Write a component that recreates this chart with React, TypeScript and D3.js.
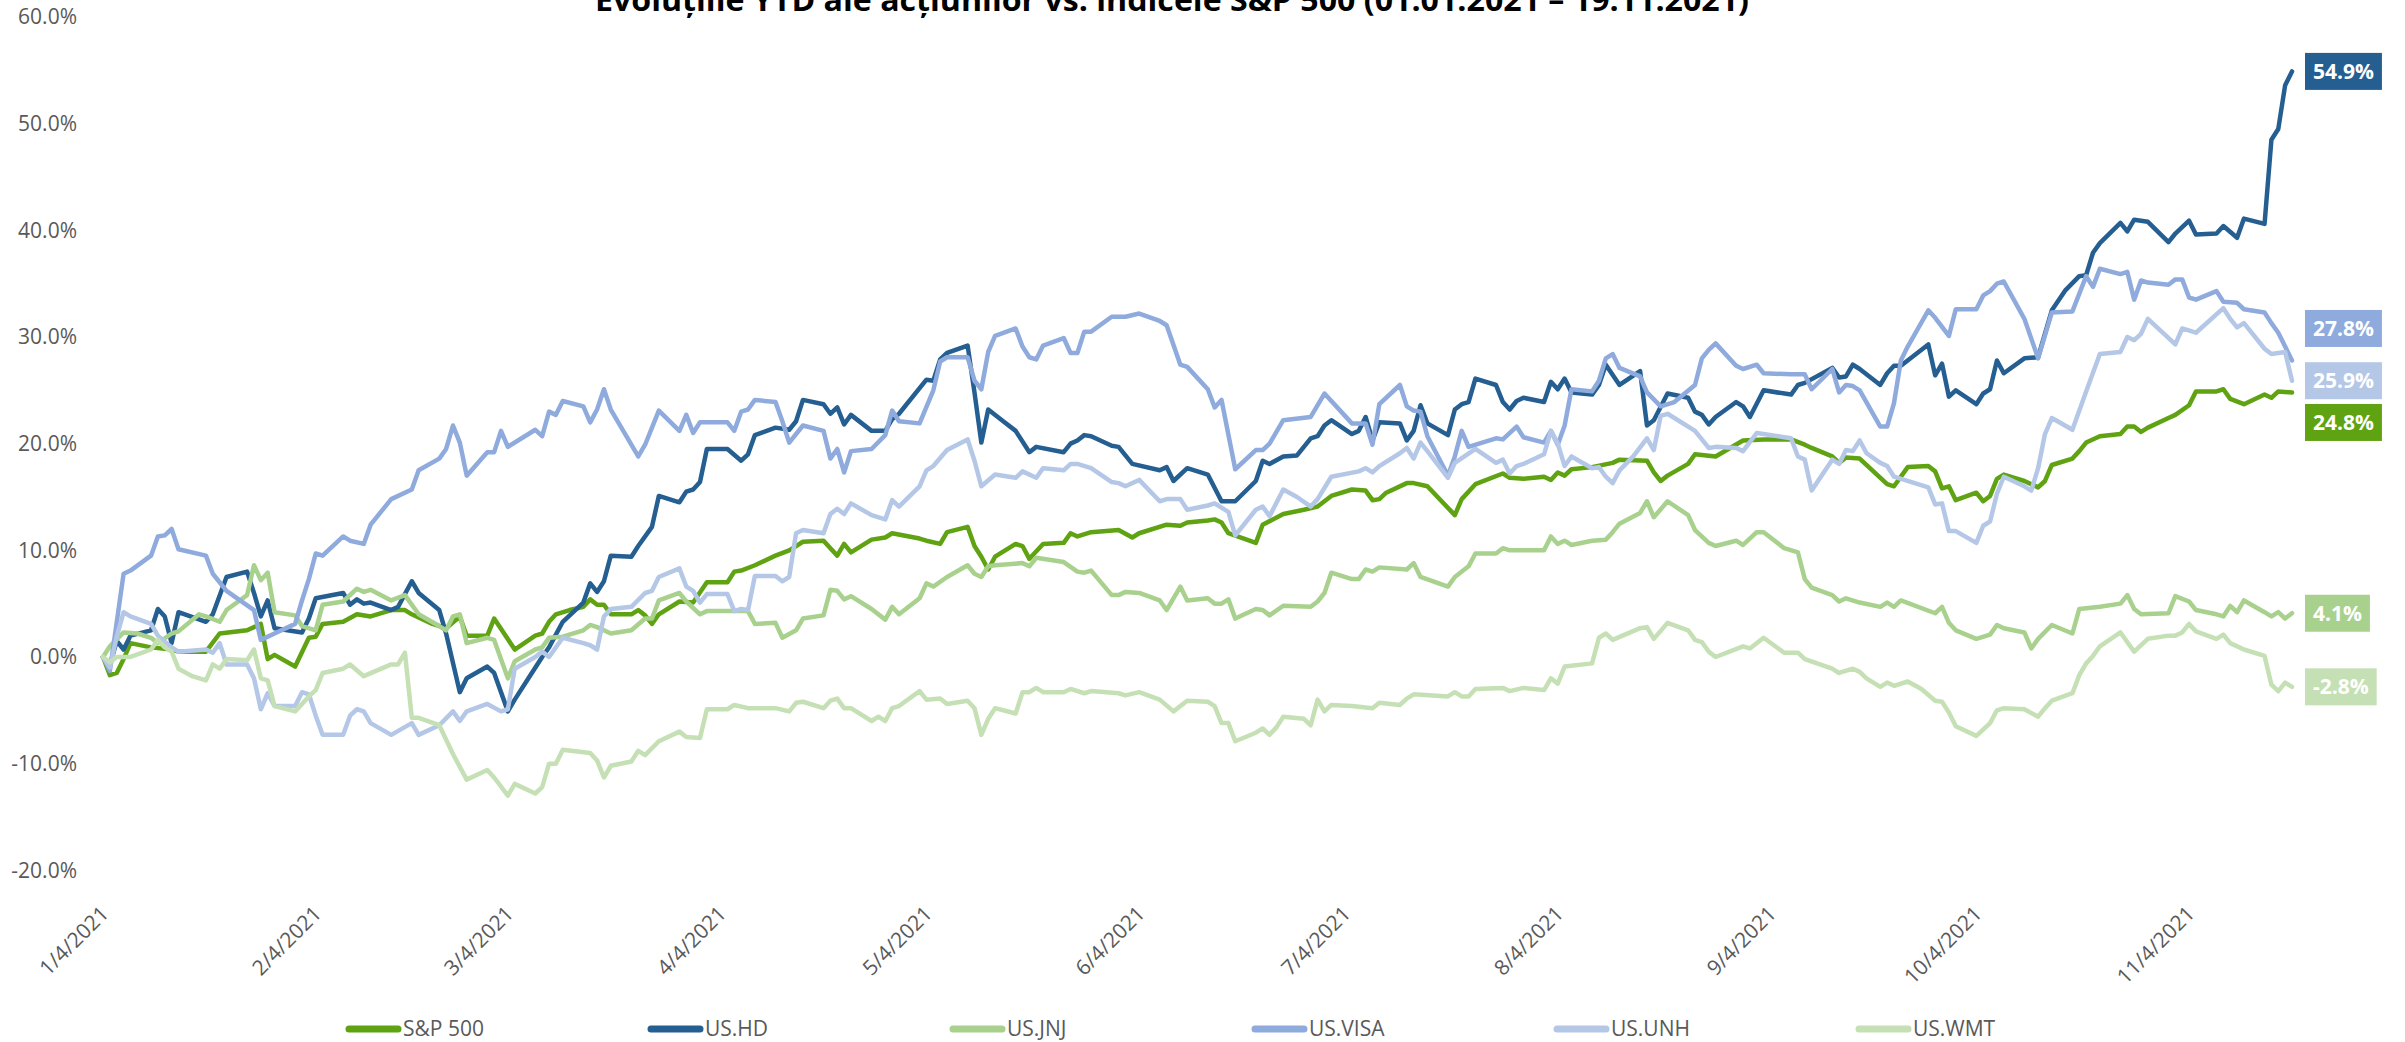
import * as d3 from "d3";

const W = 2405;
const H = 1042;

// x is counted in calendar days after 1/4/2021, y is the YTD change in %
const START = new Date(2021, 0, 4);
const LAST_DAY = 319;

const TITLE = "Evoluțiile YTD ale acțiunilor vs. indicele S&P 500 (01.01.2021 – 19.11.2021)";
const TICK_LABELS = [
  "1/4/2021", "2/4/2021", "3/4/2021", "4/4/2021", "5/4/2021", "6/4/2021",
  "7/4/2021", "8/4/2021", "9/4/2021", "10/4/2021", "11/4/2021",
];
const Y_TICKS = [-20, -10, 0, 10, 20, 30, 40, 50, 60];
const SERIES_NAMES = ["S&P 500", "US.HD", "US.JNJ", "US.VISA", "US.UNH", "US.WMT"];

const SP500: [number, number][] = [
  [0, 0], [1, -1.7], [2, -1.5], [3, -0.2], [4, 1.3], [7, 0.9], [10, 0.7], [11, 0.5], [15, 0.5], [17, 2.2],
  [21, 2.5], [23, 3.1], [24, -0.2], [25, 0.2], [28, -0.9], [30, 1.8], [31, 1.9], [32, 3.1], [35, 3.3], [37, 4.0],
  [39, 3.8], [42, 4.4], [44, 4.4], [45, 4.0], [48, 3.1], [50, 2.7], [52, 3.8], [53, 2.0], [56, 2.0], [57, 3.6],
  [60, 0.7], [63, 2.0], [64, 2.2], [65, 3.3], [66, 4.0], [68, 4.4], [70, 4.7], [71, 5.4], [72, 4.9], [73, 4.9],
  [74, 4.0], [77, 4.0], [78, 4.4], [79, 3.9], [80, 3.1], [81, 4.0], [84, 5.2], [86, 5.1], [88, 7.0], [91, 7.0],
  [92, 8.0], [93, 8.1], [95, 8.6], [98, 9.5], [100, 10.0], [101, 10.4], [102, 10.8], [105, 10.9], [106, 10.2], [107, 9.5],
  [108, 10.6], [109, 9.8], [112, 11.0], [114, 11.2], [115, 11.6], [119, 11.1], [120, 10.9], [122, 10.6], [123, 11.7], [126, 12.2],
  [127, 10.4], [128, 9.4], [129, 8.2], [130, 9.4], [133, 10.6], [134, 10.4], [135, 9.2], [137, 10.6], [140, 10.7], [141, 11.6],
  [142, 11.3], [144, 11.7], [148, 11.9], [150, 11.2], [151, 11.6], [155, 12.4], [157, 12.3], [158, 12.6], [161, 12.8], [162, 12.9],
  [163, 12.6], [164, 11.6], [168, 10.7], [169, 12.4], [172, 13.4], [175, 13.8], [177, 14.1], [179, 15.1], [182, 15.7], [184, 15.6],
  [185, 14.7], [186, 14.8], [187, 15.4], [190, 16.3], [191, 16.3], [193, 16.0], [197, 13.3], [198, 14.8], [200, 16.2], [204, 17.2],
  [205, 16.8], [207, 16.7], [210, 16.9], [211, 16.6], [212, 17.3], [213, 17.0], [214, 17.6], [217, 17.8], [220, 18.2], [221, 18.5],
  [225, 18.4], [226, 17.3], [227, 16.5], [228, 17.0], [231, 18.1], [232, 19.0], [235, 18.8], [239, 20.3], [242, 20.4], [246, 20.4],
  [248, 19.9], [249, 19.6], [252, 18.8], [253, 18.2], [254, 18.7], [256, 18.6], [260, 16.2], [261, 16.0], [263, 17.8], [266, 17.9],
  [267, 17.4], [268, 15.8], [269, 16.0], [270, 14.7], [273, 15.4], [274, 14.6], [275, 15.1], [276, 16.7], [277, 17.1], [280, 16.5],
  [282, 15.9], [283, 16.5], [284, 18.0], [287, 18.6], [288, 19.3], [289, 20.1], [291, 20.7], [294, 20.9], [295, 21.6], [296, 21.6],
  [297, 21.1], [298, 21.5], [301, 22.4], [302, 22.7], [304, 23.6], [305, 24.9], [308, 24.9], [309, 25.1], [310, 24.2], [312, 23.7],
  [315, 24.6], [316, 24.3], [317, 24.9], [319, 24.8],
];

const HD: [number, number][] = [
  [0, 0], [1, -0.8], [2, 1.5], [3, 0.7], [4, 2.0], [7, 2.5], [8, 4.5], [9, 3.8], [10, 1.3], [11, 4.2],
  [15, 3.3], [16, 4.0], [18, 7.5], [21, 8.0], [22, 6.0], [23, 3.8], [24, 5.3], [25, 2.7], [29, 2.3], [30, 3.6],
  [31, 5.5], [35, 6.0], [36, 4.9], [37, 5.4], [38, 5.0], [39, 5.1], [42, 4.4], [43, 4.7], [45, 7.1], [46, 6.0],
  [49, 4.4], [50, 2.2], [52, -3.3], [53, -2.0], [56, -0.9], [57, -1.5], [59, -5.1], [60, -4.0], [62, -2.0], [64, 0.0],
  [65, 0.9], [67, 3.3], [70, 5.1], [71, 6.9], [72, 6.1], [73, 7.1], [74, 9.5], [77, 9.4], [78, 10.4], [80, 12.2],
  [81, 15.1], [84, 14.5], [85, 15.5], [86, 15.7], [87, 16.4], [88, 19.5], [91, 19.5], [93, 18.4], [94, 19.0], [95, 20.8],
  [98, 21.5], [100, 21.3], [101, 22.1], [102, 24.1], [105, 23.7], [106, 22.8], [107, 23.4], [108, 21.8], [109, 22.7], [112, 21.2],
  [114, 21.2], [115, 22.3], [116, 22.8], [120, 26.0], [121, 25.9], [122, 27.9], [123, 28.5], [126, 29.2], [127, 24.8], [128, 20.1],
  [129, 23.2], [131, 22.2], [133, 21.2], [135, 19.2], [136, 19.7], [140, 19.2], [141, 20.0], [142, 20.3], [143, 20.8], [144, 20.7],
  [147, 19.8], [148, 19.7], [150, 18.1], [154, 17.5], [155, 17.8], [156, 16.5], [158, 17.7], [161, 17.1], [163, 14.6], [165, 14.6],
  [168, 16.5], [169, 18.4], [170, 18.1], [172, 18.8], [174, 18.9], [176, 20.5], [177, 20.7], [178, 21.7], [179, 22.2], [182, 20.9],
  [183, 21.2], [184, 22.5], [185, 20.3], [186, 22.0], [189, 21.9], [190, 20.3], [191, 21.2], [192, 23.6], [193, 21.9], [196, 20.8],
  [197, 23.2], [198, 23.7], [199, 23.9], [200, 26.1], [203, 25.5], [204, 23.9], [205, 23.2], [206, 24.0], [207, 24.3], [210, 23.9],
  [211, 25.8], [212, 25.1], [213, 26.1], [214, 24.8], [217, 24.6], [218, 25.5], [219, 27.4], [221, 25.5], [224, 26.8], [225, 21.7],
  [226, 22.2], [228, 24.7], [231, 24.3], [232, 23.0], [233, 22.7], [234, 21.8], [235, 22.5], [238, 23.9], [239, 23.5], [240, 22.5],
  [242, 25.0], [246, 24.6], [247, 25.5], [248, 25.7], [252, 27.1], [253, 26.2], [254, 26.3], [255, 27.4], [256, 27.0], [259, 25.5],
  [260, 26.6], [261, 27.3], [262, 27.3], [266, 29.3], [267, 26.4], [268, 27.5], [269, 24.4], [270, 25.0], [273, 23.7], [274, 24.7],
  [275, 25.1], [276, 27.8], [277, 26.6], [280, 28.0], [282, 28.1], [284, 32.5], [286, 34.4], [288, 35.7], [289, 35.8], [290, 37.9],
  [291, 38.8], [294, 40.7], [295, 39.9], [296, 41.0], [298, 40.8], [301, 38.9], [302, 39.7], [304, 40.9], [305, 39.6], [308, 39.7],
  [309, 40.4], [311, 39.3], [312, 41.1], [315, 40.6], [316, 48.5], [317, 49.5], [318, 53.6], [319, 54.9],
];

const JNJ: [number, number][] = [
  [0, 0], [1, 1.0], [3, 2.3], [5, 2.2], [7, 1.8], [8, 1.3], [10, 2.2], [11, 2.4], [14, 4.0], [15, 3.8],
  [17, 3.3], [18, 4.4], [21, 5.8], [22, 8.6], [23, 7.2], [24, 7.9], [25, 4.2], [28, 3.9], [29, 2.9], [31, 2.5],
  [32, 4.9], [35, 5.2], [37, 6.4], [38, 6.1], [39, 6.3], [42, 5.3], [44, 5.8], [46, 4.0], [49, 2.9], [50, 2.5],
  [51, 3.8], [52, 4.0], [53, 1.3], [56, 1.8], [57, 1.6], [59, -2.0], [60, -0.4], [63, 0.7], [64, 0.9], [65, 1.8],
  [67, 1.9], [70, 2.5], [71, 3.0], [72, 2.8], [74, 2.2], [77, 2.5], [79, 3.6], [80, 3.6], [81, 5.3], [84, 6.0],
  [85, 5.2], [87, 4.0], [88, 4.3], [91, 4.3], [94, 4.3], [95, 3.1], [98, 3.2], [99, 1.8], [101, 2.5], [102, 3.6],
  [105, 3.9], [106, 6.3], [107, 6.2], [108, 5.4], [109, 5.7], [112, 4.5], [114, 3.5], [115, 4.7], [116, 4.0], [119, 5.5],
  [120, 6.9], [121, 6.6], [123, 7.5], [126, 8.6], [127, 7.8], [128, 7.5], [129, 8.5], [130, 8.6], [134, 8.8], [135, 8.5],
  [136, 9.3], [140, 8.9], [142, 8.0], [143, 7.9], [144, 8.1], [147, 5.8], [148, 5.8], [149, 6.1], [151, 6.0], [154, 5.3],
  [155, 4.4], [157, 6.6], [158, 5.3], [161, 5.5], [162, 5.0], [163, 5.0], [164, 5.4], [165, 3.6], [168, 4.5], [169, 4.4],
  [170, 3.9], [172, 4.8], [176, 4.7], [177, 5.2], [178, 6.0], [179, 7.9], [182, 7.3], [183, 7.3], [184, 8.2], [185, 8.0],
  [186, 8.4], [190, 8.2], [191, 8.8], [192, 7.5], [196, 6.6], [197, 7.5], [199, 8.5], [200, 9.7], [203, 9.7], [204, 10.2],
  [205, 10.0], [210, 10.0], [211, 11.3], [212, 10.6], [213, 10.9], [214, 10.5], [217, 10.9], [219, 11.0], [220, 11.7], [221, 12.5],
  [224, 13.5], [225, 14.6], [226, 13.1], [228, 14.6], [231, 13.3], [232, 11.9], [234, 10.7], [235, 10.4], [238, 10.9], [239, 10.5],
  [241, 11.7], [242, 11.7], [245, 10.2], [247, 9.8], [248, 7.3], [249, 6.5], [252, 5.8], [253, 5.2], [254, 5.5], [256, 5.1],
  [259, 4.7], [260, 5.1], [261, 4.7], [262, 5.3], [267, 4.1], [268, 4.7], [269, 3.2], [270, 2.5], [273, 1.7], [275, 2.1],
  [276, 3.0], [277, 2.7], [280, 2.3], [281, 0.8], [282, 1.7], [284, 3.0], [287, 2.2], [288, 4.5], [291, 4.7], [294, 5.0],
  [295, 5.8], [296, 4.5], [297, 4.0], [301, 4.1], [302, 5.7], [304, 5.2], [305, 4.4], [308, 4.0], [309, 3.8], [310, 4.8],
  [311, 4.2], [312, 5.3], [315, 4.2], [316, 3.8], [317, 4.2], [318, 3.6], [319, 4.1],
];

const VISA: [number, number][] = [
  [0, 0], [1, -1.3], [3, 7.8], [4, 8.1], [7, 9.5], [8, 11.3], [9, 11.4], [10, 12.0], [11, 10.1], [15, 9.5],
  [16, 7.8], [18, 6.2], [22, 4.4], [23, 1.6], [25, 2.2], [28, 3.1], [29, 5.3], [30, 7.3], [31, 9.7], [32, 9.5],
  [35, 11.3], [36, 10.9], [38, 10.6], [39, 12.4], [42, 14.8], [45, 15.7], [46, 17.5], [49, 18.6], [50, 19.5], [51, 21.7],
  [52, 20.1], [53, 17.0], [56, 19.2], [57, 19.2], [58, 21.2], [59, 19.7], [63, 21.3], [64, 20.7], [65, 23.0], [66, 22.7],
  [67, 24.0], [70, 23.5], [71, 22.0], [72, 23.2], [73, 25.1], [74, 23.2], [78, 18.8], [79, 19.9], [81, 23.1], [84, 21.2],
  [85, 22.7], [86, 21.0], [87, 22.0], [91, 22.0], [92, 21.2], [93, 23.0], [94, 23.2], [95, 24.1], [98, 23.9], [99, 22.1],
  [100, 20.1], [102, 21.7], [105, 21.2], [106, 18.6], [107, 19.5], [108, 17.3], [109, 19.3], [112, 19.5], [114, 20.8], [115, 23.1],
  [116, 22.1], [119, 21.9], [121, 25.0], [122, 27.7], [123, 28.1], [126, 28.1], [127, 25.9], [128, 25.1], [129, 28.6], [130, 30.1],
  [133, 30.8], [134, 29.1], [135, 28.1], [136, 27.9], [137, 29.2], [140, 29.9], [141, 28.5], [142, 28.5], [143, 30.5], [144, 30.5],
  [147, 31.9], [149, 31.9], [151, 32.2], [154, 31.5], [155, 31.1], [157, 27.4], [158, 27.2], [161, 25.1], [162, 23.4], [163, 24.1],
  [165, 17.6], [168, 19.4], [169, 19.4], [170, 20.0], [172, 22.2], [176, 22.5], [178, 24.7], [182, 21.9], [184, 21.9], [185, 19.9],
  [186, 23.7], [189, 25.5], [190, 23.5], [191, 23.1], [192, 23.0], [193, 20.7], [196, 17.0], [197, 18.8], [198, 21.2], [199, 19.7],
  [203, 20.5], [204, 20.4], [206, 21.6], [207, 20.6], [210, 20.1], [211, 21.2], [212, 19.9], [213, 21.7], [214, 25.1], [217, 24.9],
  [218, 25.9], [219, 28.0], [220, 28.4], [221, 27.1], [224, 26.3], [225, 24.8], [227, 23.5], [229, 23.9], [232, 25.5], [233, 28.0],
  [234, 28.8], [235, 29.4], [238, 27.3], [239, 27.0], [241, 27.4], [242, 26.6], [246, 26.5], [248, 26.5], [249, 25.1], [252, 27.0],
  [253, 24.8], [254, 25.5], [255, 25.4], [256, 25.0], [259, 21.6], [260, 21.6], [261, 23.8], [262, 27.8], [263, 29.1], [266, 32.5],
  [267, 31.8], [269, 30.1], [270, 32.6], [273, 32.6], [274, 33.9], [275, 34.3], [276, 35.0], [277, 35.2], [280, 31.7], [282, 28.0],
  [284, 32.3], [287, 32.4], [289, 35.7], [290, 34.7], [291, 36.4], [294, 35.9], [295, 36.1], [296, 33.5], [297, 35.3], [298, 35.1],
  [301, 34.9], [302, 35.4], [303, 35.4], [304, 33.7], [305, 33.5], [308, 34.3], [309, 33.3], [311, 33.2], [312, 32.6], [315, 32.3],
  [316, 31.3], [317, 30.4], [318, 29.1], [319, 27.8],
];

const UNH: [number, number][] = [
  [0, 0], [1, -1.0], [2, 1.9], [3, 4.2], [4, 3.8], [7, 3.1], [8, 2.0], [10, 0.9], [11, 0.5], [15, 0.7],
  [16, 0.4], [17, 1.3], [18, -0.7], [21, -0.7], [22, -2.0], [23, -4.9], [24, -3.4], [25, -4.6], [28, -4.6], [29, -3.3],
  [30, -3.5], [31, -5.5], [32, -7.3], [35, -7.3], [36, -5.5], [37, -4.9], [38, -5.1], [39, -6.2], [42, -7.3], [45, -6.2],
  [46, -7.3], [49, -6.4], [51, -5.1], [52, -6.0], [53, -5.1], [56, -4.4], [58, -5.1], [59, -4.9], [60, -1.1], [63, 0.0],
  [64, 0.5], [65, 0.0], [67, 1.8], [70, 1.3], [71, 1.1], [72, 0.7], [73, 3.8], [74, 4.5], [77, 4.7], [79, 6.0],
  [80, 6.2], [81, 7.5], [84, 8.3], [85, 6.6], [86, 6.2], [87, 5.1], [88, 5.9], [91, 5.9], [92, 4.3], [93, 4.5],
  [94, 4.4], [95, 7.6], [98, 7.6], [99, 7.1], [100, 7.5], [101, 11.6], [102, 11.9], [105, 11.6], [106, 13.4], [107, 13.9],
  [108, 13.4], [109, 14.4], [112, 13.3], [114, 12.9], [115, 14.7], [116, 14.1], [119, 16.0], [120, 17.5], [121, 17.9], [123, 19.4],
  [126, 20.4], [127, 18.4], [128, 16.0], [130, 17.1], [133, 16.8], [134, 17.4], [136, 16.8], [137, 17.7], [140, 17.5], [141, 18.1],
  [142, 18.1], [144, 17.7], [147, 16.4], [148, 16.3], [149, 16.0], [151, 16.6], [154, 14.6], [155, 14.8], [157, 14.8], [158, 13.8],
  [161, 14.2], [162, 14.4], [164, 13.6], [165, 11.4], [168, 13.8], [169, 14.1], [170, 13.2], [172, 15.7], [174, 15.0], [176, 14.1],
  [177, 14.8], [179, 16.9], [183, 17.4], [184, 17.7], [185, 17.3], [186, 17.9], [189, 19.1], [190, 19.6], [191, 18.6], [192, 20.1],
  [193, 19.3], [196, 16.8], [197, 18.2], [200, 19.5], [203, 18.2], [204, 18.5], [205, 17.2], [206, 17.9], [207, 18.1], [210, 19.0],
  [211, 21.2], [212, 20.0], [213, 17.9], [214, 18.8], [217, 17.7], [218, 17.8], [219, 16.9], [220, 16.3], [221, 17.5], [223, 18.8],
  [225, 20.5], [226, 19.4], [227, 22.6], [228, 22.8], [232, 21.2], [234, 19.6], [235, 19.7], [238, 19.6], [239, 19.3], [241, 21.0],
  [246, 20.5], [247, 18.8], [248, 18.5], [249, 15.6], [252, 18.5], [253, 18.1], [254, 19.4], [255, 19.3], [256, 20.3], [257, 19.1],
  [259, 18.2], [260, 17.9], [261, 16.9], [266, 15.9], [267, 14.3], [268, 14.4], [269, 11.8], [270, 11.8], [273, 10.7], [274, 12.3],
  [275, 12.7], [276, 15.3], [277, 16.9], [280, 16.0], [281, 15.6], [282, 17.7], [283, 20.9], [284, 22.4], [287, 21.3], [289, 24.9],
  [291, 28.4], [294, 28.6], [295, 30.0], [296, 29.7], [297, 30.3], [298, 31.7], [302, 29.3], [303, 30.8], [305, 30.4], [309, 32.7],
  [310, 31.7], [311, 30.9], [312, 31.3], [315, 28.9], [316, 28.4], [318, 28.6], [319, 25.9],
];

const WMT: [number, number][] = [
  [0, 0], [1, -0.5], [2, 0.0], [4, 0.0], [7, 0.7], [8, 1.6], [9, 0.9], [10, 0.5], [11, -1.1], [13, -1.8],
  [15, -2.2], [16, -0.7], [17, -1.1], [18, -0.2], [21, -0.3], [22, 0.7], [23, -2.0], [24, -2.2], [25, -4.6], [28, -5.1],
  [30, -3.7], [31, -3.1], [32, -1.5], [35, -1.1], [36, -0.7], [38, -1.8], [42, -0.7], [43, -0.7], [44, 0.4], [45, -5.7],
  [46, -5.7], [49, -6.4], [51, -9.1], [53, -11.5], [56, -10.6], [57, -11.3], [59, -13.0], [60, -11.9], [63, -12.8], [64, -12.2],
  [65, -10.0], [66, -10.0], [67, -8.7], [71, -9.0], [72, -9.7], [73, -11.3], [74, -10.2], [77, -9.8], [78, -8.8], [79, -9.2],
  [81, -7.9], [84, -7.0], [85, -7.5], [87, -7.6], [88, -4.9], [91, -4.9], [92, -4.5], [94, -4.8], [98, -4.8], [100, -5.1],
  [101, -4.3], [102, -4.2], [105, -4.8], [106, -4.1], [107, -3.9], [108, -4.8], [109, -4.8], [112, -6.0], [113, -5.6], [114, -6.0],
  [115, -4.8], [116, -4.6], [119, -3.2], [120, -4.0], [122, -3.9], [123, -4.4], [126, -4.1], [127, -4.8], [128, -7.3], [129, -5.8],
  [130, -4.8], [133, -5.3], [134, -3.3], [135, -3.3], [136, -2.9], [137, -3.3], [140, -3.3], [141, -3.0], [143, -3.4], [144, -3.2],
  [148, -3.4], [149, -3.6], [151, -3.3], [154, -4.0], [156, -5.1], [158, -4.1], [161, -4.2], [162, -4.6], [163, -6.2], [164, -6.2],
  [165, -7.9], [168, -7.1], [169, -6.7], [170, -7.3], [171, -6.6], [172, -5.6], [175, -5.8], [176, -6.4], [177, -4.0], [178, -5.1],
  [179, -4.5], [182, -4.6], [185, -4.8], [186, -4.3], [189, -4.5], [190, -3.9], [191, -3.5], [196, -3.7], [197, -3.3], [198, -3.7],
  [199, -3.7], [200, -3.0], [204, -2.9], [205, -3.2], [207, -2.9], [210, -3.1], [211, -2.0], [212, -2.5], [213, -0.9], [217, -0.6],
  [218, 1.8], [219, 2.2], [220, 1.6], [224, 2.7], [225, 2.8], [226, 1.7], [228, 3.2], [231, 2.5], [232, 1.6], [233, 1.4],
  [234, 0.5], [235, 0.0], [239, 1.0], [240, 0.8], [242, 1.8], [245, 0.4], [247, 0.4], [248, -0.2], [252, -1.1], [253, -1.5],
  [255, -1.1], [256, -1.4], [257, -2.0], [259, -2.8], [260, -2.4], [261, -2.7], [263, -2.3], [265, -3.0], [267, -4.1], [268, -4.2],
  [269, -5.2], [270, -6.5], [273, -7.4], [275, -6.2], [276, -5.0], [277, -4.8], [280, -4.9], [282, -5.6], [283, -4.8], [284, -4.1],
  [287, -3.4], [288, -1.7], [289, -0.6], [290, 0.1], [291, 1.0], [294, 2.3], [296, 0.5], [298, 1.7], [301, 2.0], [302, 2.0],
  [303, 2.3], [304, 3.1], [305, 2.4], [308, 1.7], [309, 2.1], [310, 1.3], [312, 0.7], [315, 0.1], [316, -2.6], [317, -3.2],
  [318, -2.4], [319, -2.8],
];

const SERIES_VALUES = [SP500, HD, JNJ, VISA, UNH, WMT];
const COLORS = ["#5fa312", "#255e91", "#a9d18e", "#8faadc", "#b4c7e7", "#c5e0b4"];
// end labels that Excel pushed off their point to avoid overlap
const LABEL_SHIFT: Record<string, number> = { "US.VISA": -32, "S&P 500": 30 };

const FONT = "'Open Sans', 'DejaVu Sans', sans-serif";
const TEXT_GREY = "#595959";
// plain hyphen for negatives, like Excel
const fmtPct = (v: number) => (v < 0 ? "-" : "") + Math.abs(v).toFixed(1) + "%";
const parseTick = d3.timeParse("%m/%d/%Y");

let measureCtx: CanvasRenderingContext2D | null = null;
function textWidth(text: string, font: string) {
  if (!measureCtx) measureCtx = document.createElement("canvas").getContext("2d");
  if (!measureCtx) return text.length * 11;
  measureCtx.font = font;
  return measureCtx.measureText(text).width;
}

export default function App() {
  const x = d3
    .scaleTime()
    .domain([START, d3.timeDay.offset(START, LAST_DAY)])
    .range([103, 2292]);
  const y = d3.scaleLinear().domain([-20, 60]).range([870.3, 17]);

  const line = d3
    .line<[number, number]>()
    .x((d) => x(d3.timeDay.offset(START, d[0])))
    .y((d) => y(d[1]));

  const series = SERIES_NAMES.map((name, i) => ({
    name,
    color: COLORS[i],
    values: SERIES_VALUES[i],
  }));

  const legendX = d3.scalePoint<string>().domain(SERIES_NAMES).range([346, 1856]);
  const labelFont = `bold 21px ${FONT}`;

  return (
    <div style={{ position: "absolute", left: 0, top: 0, background: "#fff" }}>
      <svg width={W} height={H} style={{ display: "block" }}>
        <rect width={W} height={H} fill="#fff" />

        {/* title, cropped by the top edge as in the source */}
        <text
          x={1172}
          y={11}
          textAnchor="middle"
          fontFamily={FONT}
          fontWeight="bold"
          fontSize={30}
          fill="#000"
          textLength={1154}
          lengthAdjust="spacingAndGlyphs"
        >
          {TITLE}
        </text>

        {/* y axis labels */}
        {Y_TICKS.map((t) => (
          <text
            key={t}
            x={77}
            y={y(t)}
            dy="0.35em"
            textAnchor="end"
            fontFamily={FONT}
            fontSize={21}
            fill={TEXT_GREY}
          >
            {fmtPct(t)}
          </text>
        ))}

        {/* x axis labels, rotated */}
        {TICK_LABELS.map((lbl) => {
          const d = parseTick(lbl) as Date;
          return (
            <text
              key={lbl}
              transform={`translate(${x(d) + 7},915) rotate(-45)`}
              textAnchor="end"
              fontFamily={FONT}
              fontSize={21}
              fill={TEXT_GREY}
            >
              {lbl}
            </text>
          );
        })}

        {/* lines */}
        {series.map((s) => (
          <path
            key={s.name}
            d={line(s.values) ?? ""}
            fill="none"
            stroke={s.color}
            strokeWidth={4.5}
            strokeLinejoin="round"
            strokeLinecap="round"
          />
        ))}

        {/* end value labels */}
        {series.map((s) => {
          const last = s.values[s.values.length - 1][1];
          const txt = fmtPct(last);
          const w = textWidth(txt, labelFont) + 16;
          const cy = y(last) + (LABEL_SHIFT[s.name] ?? 0);
          return (
            <g key={s.name} transform={`translate(2305,${cy})`}>
              <rect x={0} y={-18.5} width={w} height={37} fill={s.color} />
              <text
                x={w / 2}
                y={0}
                dy="0.36em"
                textAnchor="middle"
                fontFamily={FONT}
                fontWeight="bold"
                fontSize={21}
                fill="#fff"
              >
                {txt}
              </text>
            </g>
          );
        })}

        {/* legend */}
        {series.map((s) => {
          const lx = legendX(s.name) ?? 0;
          return (
            <g key={s.name} transform={`translate(${lx},1029)`}>
              <line
                x1={3}
                x2={52}
                y1={0}
                y2={0}
                stroke={s.color}
                strokeWidth={7}
                strokeLinecap="round"
              />
              <text
                x={57}
                y={0}
                dy="0.35em"
                fontFamily={FONT}
                fontSize={21}
                fill={TEXT_GREY}
              >
                {s.name}
              </text>
            </g>
          );
        })}
      </svg>
    </div>
  );
}
